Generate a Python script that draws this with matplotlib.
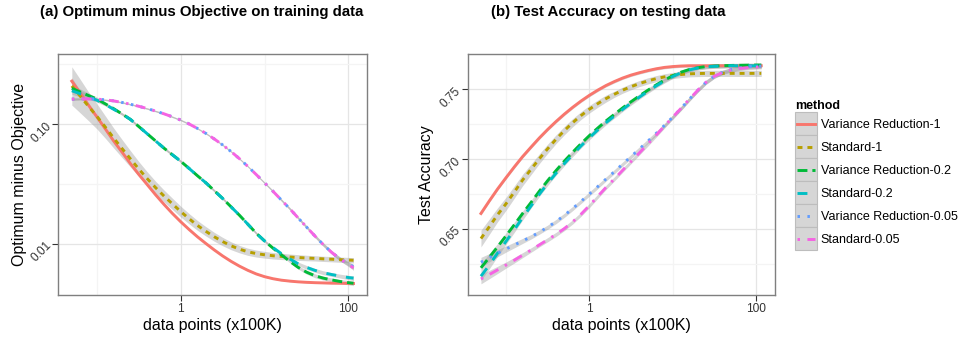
import matplotlib
matplotlib.use('Agg')
import matplotlib.pyplot as plt
import numpy as np
from matplotlib.lines import Line2D
from matplotlib.patches import Rectangle
from matplotlib.ticker import FixedLocator, NullFormatter

plt.rcParams['font.family'] = ['Liberation Sans', 'DejaVu Sans']

# data points (x100K), shared by every curve
data_points = [0.05, 0.063, 0.079, 0.1, 0.126, 0.158, 0.2, 0.251, 0.316,
               0.398, 0.501, 0.631, 0.794, 1.0, 1.26, 1.58, 2.0, 2.51, 3.16,
               3.98, 5.01, 6.31, 7.94, 10.0, 12.6, 15.8, 20.0, 25.1, 31.6,
               39.8, 50.1, 63.1, 79.4, 100.0, 115.0]

methods = ['Variance Reduction-1', 'Standard-1', 'Variance Reduction-0.2',
           'Standard-0.2', 'Variance Reduction-0.05', 'Standard-0.05']

# (a) optimum minus objective on training data, read as log10 values
log_gap_vr_1 = [-0.64, -0.74, -0.84, -0.94, -1.04, -1.14, -1.235, -1.33,
                -1.42, -1.505, -1.59, -1.67, -1.745, -1.815, -1.88, -1.94,
                -1.997, -2.05, -2.10, -2.145, -2.185, -2.22, -2.25, -2.273,
                -2.29, -2.302, -2.31, -2.316, -2.32, -2.323, -2.325, -2.327,
                -2.328, -2.329, -2.33]
log_gap_std_1 = [-0.68, -0.765, -0.85, -0.935, -1.025, -1.115, -1.205,
                 -1.29, -1.375, -1.455, -1.53, -1.60, -1.665, -1.73, -1.79,
                 -1.845, -1.895, -1.94, -1.98, -2.015, -2.043, -2.065, -2.08,
                 -2.09, -2.098, -2.104, -2.109, -2.113, -2.117, -2.12,
                 -2.124, -2.127, -2.131, -2.134, -2.136]
log_gap_vr_02 = [-0.70, -0.73, -0.76, -0.79, -0.83, -0.87, -0.915, -0.96,
                 -1.02, -1.08, -1.14, -1.20, -1.255, -1.31, -1.37, -1.43,
                 -1.49, -1.555, -1.62, -1.69, -1.76, -1.835, -1.91, -1.975,
                 -2.035, -2.09, -2.145, -2.195, -2.235, -2.265, -2.285,
                 -2.30, -2.313, -2.323, -2.328]
log_gap_std_02 = [-0.72, -0.745, -0.77, -0.80, -0.835, -0.875, -0.915,
                  -0.96, -1.02, -1.08, -1.14, -1.20, -1.255, -1.31, -1.37,
                  -1.43, -1.49, -1.555, -1.62, -1.69, -1.76, -1.835, -1.91,
                  -1.975, -2.03, -2.08, -2.125, -2.165, -2.195, -2.22,
                  -2.24, -2.255, -2.268, -2.28, -2.285]
log_gap_vr_005 = [-0.79, -0.788, -0.788, -0.79, -0.796, -0.805, -0.818,
                  -0.833, -0.85, -0.869, -0.89, -0.913, -0.938, -0.965,
                  -0.998, -1.035, -1.077, -1.123, -1.173, -1.228, -1.288,
                  -1.352, -1.42, -1.49, -1.56, -1.632, -1.706, -1.782,
                  -1.858, -1.933, -2.005, -2.07, -2.125, -2.165, -2.19]
log_gap_std_005 = [-0.79, -0.788, -0.788, -0.79, -0.796, -0.805, -0.818,
                   -0.833, -0.85, -0.869, -0.89, -0.913, -0.938, -0.965,
                   -0.998, -1.035, -1.077, -1.123, -1.173, -1.228, -1.288,
                   -1.352, -1.42, -1.49, -1.56, -1.632, -1.706, -1.782,
                   -1.858, -1.933, -2.005, -2.07, -2.125, -2.17, -2.20]
# half width of each confidence band, in decades
gap_band = [
    [0.03, 0.02, 0.012, 0.008] + [0.005] * 31,
    [0.16, 0.14, 0.12, 0.105, 0.093, 0.083, 0.075, 0.068, 0.062, 0.057,
     0.053, 0.05, 0.047, 0.045, 0.043, 0.041, 0.039, 0.037, 0.035, 0.033,
     0.031, 0.03, 0.029, 0.028, 0.027, 0.026, 0.025, 0.024, 0.023, 0.022,
     0.022, 0.022, 0.022, 0.022, 0.022],
    [0.03, 0.025, 0.02, 0.016, 0.013, 0.011] + [0.01] * 20
    + [0.012, 0.014, 0.016, 0.016, 0.016, 0.016, 0.016, 0.018, 0.02],
    [0.03, 0.025, 0.02, 0.016, 0.013, 0.011] + [0.01] * 20
    + [0.012, 0.014, 0.016, 0.016, 0.016, 0.016, 0.016, 0.018, 0.02],
    [0.01, 0.008, 0.007] + [0.006] * 20
    + [0.007, 0.008, 0.009, 0.01, 0.011, 0.012, 0.013, 0.014, 0.015,
       0.016, 0.018, 0.02],
    [0.01, 0.008, 0.007] + [0.006] * 20
    + [0.007, 0.008, 0.009, 0.01, 0.011, 0.012, 0.013, 0.014, 0.015,
       0.016, 0.018, 0.02],
]

# (b) test accuracy on testing data
acc_vr_1 = [0.661, 0.670, 0.6785, 0.6867, 0.6945, 0.7018, 0.7087, 0.7152,
            0.7213, 0.727, 0.7323, 0.7372, 0.7417, 0.7458, 0.7495, 0.7528,
            0.7557, 0.7582, 0.7603, 0.762, 0.7635, 0.7648, 0.7658, 0.7664,
            0.7668] + [0.767] * 10
acc_std_1 = [0.643, 0.6515, 0.66, 0.668, 0.6765, 0.685, 0.6928, 0.7003,
             0.7075, 0.7143, 0.7205, 0.7262, 0.7313, 0.7358, 0.7398, 0.7434,
             0.7466, 0.7495, 0.752, 0.7542, 0.7561, 0.7577, 0.759, 0.76,
             0.7607, 0.7612, 0.7614] + [0.7615] * 8
acc_vr_02 = [0.622, 0.6295, 0.637, 0.645, 0.653, 0.661, 0.669, 0.677,
             0.6846, 0.6918, 0.6986, 0.705, 0.7111, 0.7169, 0.7223, 0.7274,
             0.7322, 0.7368, 0.7412, 0.7454, 0.7494, 0.7532, 0.7567, 0.7598,
             0.7624, 0.7643, 0.7656, 0.7664, 0.7668, 0.767, 0.7672, 0.7673,
             0.7674, 0.7675, 0.7675]
acc_std_02 = [0.616, 0.624, 0.6325, 0.641, 0.6495, 0.658, 0.6665, 0.6748,
              0.6826, 0.6899, 0.6968, 0.7033, 0.7095, 0.7154, 0.7209, 0.7261,
              0.731, 0.7357, 0.7402, 0.7445, 0.7486, 0.7525, 0.7561, 0.7593,
              0.762, 0.764, 0.7654, 0.7662, 0.7666, 0.7668] + [0.767] * 5
acc_vr_005 = [0.626, 0.6292, 0.6325, 0.6355, 0.6384, 0.6413, 0.6443, 0.6476,
              0.6512, 0.6552, 0.6597, 0.6646, 0.6697, 0.675, 0.6803, 0.6857,
              0.6911, 0.6965, 0.7019, 0.7073, 0.7128, 0.7184, 0.7242, 0.7302,
              0.7365, 0.743, 0.7495, 0.7552, 0.7595, 0.7624, 0.7643, 0.7655,
              0.7662, 0.7666, 0.7668]
acc_std_005 = [0.614, 0.6172, 0.6205, 0.624, 0.6275, 0.6311, 0.6348, 0.6385,
               0.6422, 0.646, 0.6502, 0.655, 0.6605, 0.6667, 0.6733, 0.6797,
               0.6859, 0.6921, 0.6983, 0.7045, 0.7108, 0.7172, 0.7237,
               0.7302, 0.7365, 0.743, 0.7495, 0.7552, 0.7595, 0.7622, 0.764,
               0.765, 0.7656, 0.766, 0.7662]
acc_band = [
    [0.001] * 35,
    [0.006, 0.0055, 0.005, 0.0047, 0.0044, 0.0041, 0.0038, 0.0035, 0.0033,
     0.0031, 0.003, 0.0029, 0.0028, 0.0027, 0.0026, 0.0025] + [0.0022] * 19,
    [0.003, 0.0027, 0.0024, 0.0021, 0.0019, 0.0017] + [0.0015] * 29,
    [0.003, 0.0027, 0.0024, 0.0021, 0.0019, 0.0017] + [0.0015] * 29,
    [0.0035, 0.003, 0.0026, 0.0022, 0.002, 0.0018, 0.0016] + [0.0015] * 28,
    [0.0035, 0.003, 0.0026, 0.0022, 0.002, 0.0018, 0.0016] + [0.0015] * 28,
]

colors = ['#F8766D', '#B79F00', '#00BA38', '#00BFC4', '#619CFF', '#F564E3']
dashes = ['-', (0, (1.7, 1.7)), (0, (3.4, 1.7)), (0, (3.4, 3.4)),
          (0, (0.85, 2.55)), (0, (0.85, 2.55, 3.4, 2.55))]
LW = 2.1
TXT = '#333333'


class KeyHandler:
    # grey ggplot-like legend key with the line drawn through its middle
    def legend_artist(self, legend, orig_handle, fontsize, handlebox):
        x0, y0 = handlebox.xdescent, handlebox.ydescent
        w, h = handlebox.width, handlebox.height
        tr = handlebox.get_transform()
        rect = Rectangle((-x0, -y0), w, h, facecolor='#D6D6D6',
                         edgecolor='#BDBDBD', lw=0.8, transform=tr)
        ln = Line2D([-x0 + 1.5, -x0 + w - 1.5], [-y0 + h / 2] * 2,
                    color=orig_handle.get_color(),
                    ls=orig_handle.get_linestyle(), lw=LW, transform=tr)
        ln.set_dashes(orig_handle._unscaled_dash_pattern[1]) \
            if orig_handle._unscaled_dash_pattern[1] else None
        handlebox.add_artist(rect)
        handlebox.add_artist(ln)
        return rect


def style_axes(ax):
    ax.set_xscale('log')
    ax.set_xlim(0.0345, 168)
    ax.set_xticks([1, 100])
    ax.set_xticklabels(['1', '100'])
    ax.xaxis.set_minor_locator(FixedLocator([0.1, 10]))
    ax.xaxis.set_minor_formatter(NullFormatter())
    ax.grid(True, which='major', color='#E5E5E5', lw=0.9)
    ax.grid(True, which='minor', color='#F4F4F4', lw=0.9)
    ax.set_axisbelow(True)
    for s in ax.spines.values():
        s.set_color('#7F7F7F')
        s.set_linewidth(1.0)
    ax.tick_params(which='major', length=4, width=0.8, color='#333333',
                   labelsize=8.6, labelcolor=TXT, pad=2)
    ax.tick_params(which='minor', length=0)
    plt.setp(ax.get_yticklabels(), rotation=45, ha='right', va='center',
             rotation_mode='anchor')
    ax.set_xlabel('data points (x100K)', fontsize=11.5, labelpad=2)


fig = plt.figure(figsize=(9.59, 3.37), dpi=100)
ax1 = fig.add_axes([0.0608, 0.1246, 0.3222, 0.7151])
ax2 = fig.add_axes([0.4875, 0.1246, 0.3206, 0.7151])

x = np.array(data_points)
log_gaps = [log_gap_vr_1, log_gap_std_1, log_gap_vr_02, log_gap_std_02,
            log_gap_vr_005, log_gap_std_005]
accs = [acc_vr_1, acc_std_1, acc_vr_02, acc_std_02, acc_vr_005, acc_std_005]

for g, b in zip(log_gaps, gap_band):
    g, b = np.array(g), np.array(b)
    ax1.fill_between(x, 10 ** (g - b), 10 ** (g + b), color='#999999',
                     alpha=0.4, lw=0, zorder=2)
for a, b in zip(accs, acc_band):
    a, b = np.array(a), np.array(b)
    ax2.fill_between(x, a - b, a + b, color='#999999', alpha=0.4, lw=0,
                     zorder=2)

handles = []
for i, m in enumerate(methods):
    ax1.plot(x, 10 ** np.array(log_gaps[i]), color=colors[i], ls=dashes[i],
             lw=LW, zorder=3)
    line, = ax2.plot(x, accs[i], color=colors[i], ls=dashes[i], lw=LW,
                     zorder=3)
    handles.append(line)

ax1.set_yscale('log')
ax1.set_ylim(0.00375, 0.386)
ax1.set_yticks([0.01, 0.1])
ax1.set_yticklabels(['0.01', '0.10'])
ax1.yaxis.set_minor_locator(FixedLocator([10 ** -2.5, 10 ** -1.5, 10 ** -0.5]))
ax1.yaxis.set_minor_formatter(NullFormatter())
style_axes(ax1)
ax1.set_ylabel('Optimum minus Objective', fontsize=11.5)
ax1.yaxis.set_label_coords(-0.100, 0.5)

ax2.set_ylim(0.6025, 0.7754)
ax2.set_yticks([0.65, 0.70, 0.75])
ax2.set_yticklabels(['0.65', '0.70', '0.75'])
ax2.yaxis.set_minor_locator(FixedLocator([0.625, 0.675, 0.725]))
ax2.yaxis.set_minor_formatter(NullFormatter())
style_axes(ax2)
ax2.set_ylabel('Test Accuracy', fontsize=11.5)
ax2.yaxis.set_label_coords(-0.109, 0.5)

fig.text(0.2102, 0.964, '(a) Optimum minus Objective on training data',
         ha='center', va='center', fontsize=10.8, fontweight='bold')
fig.text(0.634, 0.964, '(b) Test Accuracy on testing data',
         ha='center', va='center', fontsize=10.8, fontweight='bold')

leg = fig.legend(handles, methods, loc='upper left',
                 bbox_to_anchor=(0.829, 0.702), frameon=False,
                 handler_map={Line2D: KeyHandler()},
                 fontsize=9, title='method', alignment='left',
                 title_fontproperties={'weight': 'bold', 'size': 9},
                 handlelength=1.75, handleheight=2.45, labelspacing=0,
                 handletextpad=0.3, borderpad=0, borderaxespad=0)

fig.savefig('out.png', dpi=100)
